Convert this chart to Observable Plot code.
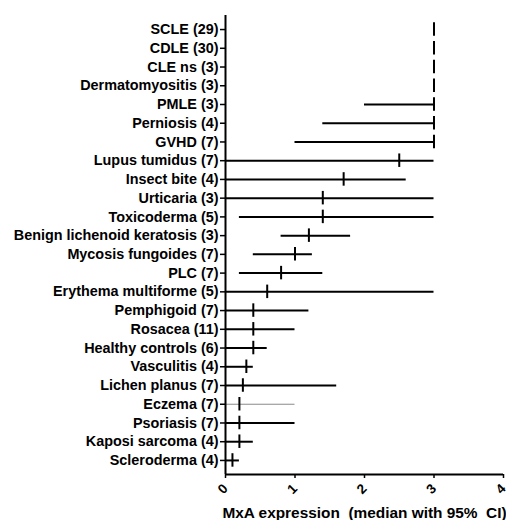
<!DOCTYPE html>
<html>
<head>
<meta charset="utf-8">
<script src="https://cdn.jsdelivr.net/npm/d3@7"></script>
<script src="https://cdn.jsdelivr.net/npm/@observablehq/plot@0.6"></script>
<style>
  html, body { margin: 0; padding: 0; background: #fff; }
  svg text { white-space: pre; }
</style>
</head>
<body>
<div id="chart"></div>
<script>
const categories = [
  "SCLE (29)", "CDLE (30)", "CLE ns (3)", "Dermatomyositis (3)", "PMLE (3)",
  "Perniosis (4)", "GVHD (7)", "Lupus tumidus (7)", "Insect bite (4)", "Urticaria (3)",
  "Toxicoderma (5)", "Benign lichenoid keratosis (3)", "Mycosis fungoides (7)", "PLC (7)",
  "Erythema multiforme (5)", "Pemphigoid (7)", "Rosacea (11)", "Healthy controls (6)",
  "Vasculitis (4)", "Lichen planus (7)", "Eczema (7)", "Psoriasis (7)", "Kaposi sarcoma (4)",
  "Scleroderma (4)"
];
const medians = [3, 3, 3, 3, 3, 3, 3, 2.5, 1.7, 1.4, 1.4, 1.2, 1.0, 0.8, 0.6, 0.4, 0.4, 0.4, 0.3, 0.25, 0.2, 0.2, 0.2, 0.1];
const lows    = [3, 3, 3, 3, 2.0, 1.4, 1.0, 0, 0, 0, 0.2, 0.8, 0.4, 0.2, 0, 0, 0, 0, 0, 0, 0, 0, 0, 0];
const highs   = [3, 3, 3, 3, 3, 3, 3, 3, 2.6, 3, 3, 1.8, 1.25, 1.4, 3, 1.2, 1.0, 0.6, 0.4, 1.6, 1.0, 1.0, 0.4, 0.2];
const xTicks = [0, 1, 2, 3, 4];
const xLabel = "MxA expression  (median with 95%  CI)";
const thinRow = "Eczema (7)";

const rows = categories.map((name, i) => ({name, i, median: medians[i], low: lows[i], high: highs[i]}));
const yTop = -0.75, yBottom = categories.length - 0.25;

const chart = Plot.plot({
  width: 506,
  height: 520,
  marginLeft: 225,
  marginRight: 3,
  marginTop: 15,
  marginBottom: 46,
  style: {fontFamily: "'Liberation Sans', Arial, sans-serif", fontWeight: "bold", fontSize: "14px", color: "#000", background: "#fff"},
  x: {domain: [0, 4]},
  y: {domain: [yBottom, yTop]},
  marks: [
    Plot.ruleY(rows, {
      y: "i", x1: "low", x2: "high",
      stroke: d => d.name === thinRow ? "#8a8a8a" : "#000",
      strokeWidth: d => d.name === thinRow ? 1 : 2
    }),
    Plot.ruleX(rows, {x: "median", y1: d => d.i - 0.36, y2: d => d.i + 0.36, stroke: "#000", strokeWidth: 2}),
    Plot.ruleX([0], {stroke: "#000", strokeWidth: 2}),
    Plot.ruleY([yBottom], {stroke: "#000", strokeWidth: 2}),
    Plot.axisY({
      ticks: rows.map(d => d.i),
      tickFormat: i => categories[i],
      tickSize: 5, tickPadding: 2, strokeWidth: 1.5,
      fontSize: 14.4, fontWeight: "bold",
      label: null
    }),
    Plot.axisX({
      ticks: xTicks,
      tickFormat: d => String(d),
      tickSize: 4, strokeWidth: 1.5,
      tickRotate: -45,
      fontSize: 13.5, fontWeight: "bold",
      label: null
    }),
    Plot.text([xLabel], {
      text: d => d,
      frameAnchor: "bottom",
      dy: 43,
      fontSize: 15.4,
      fontWeight: "bold",
      fill: "#000"
    })
  ]
});
document.getElementById("chart").append(chart);
</script>
</body>
</html>
